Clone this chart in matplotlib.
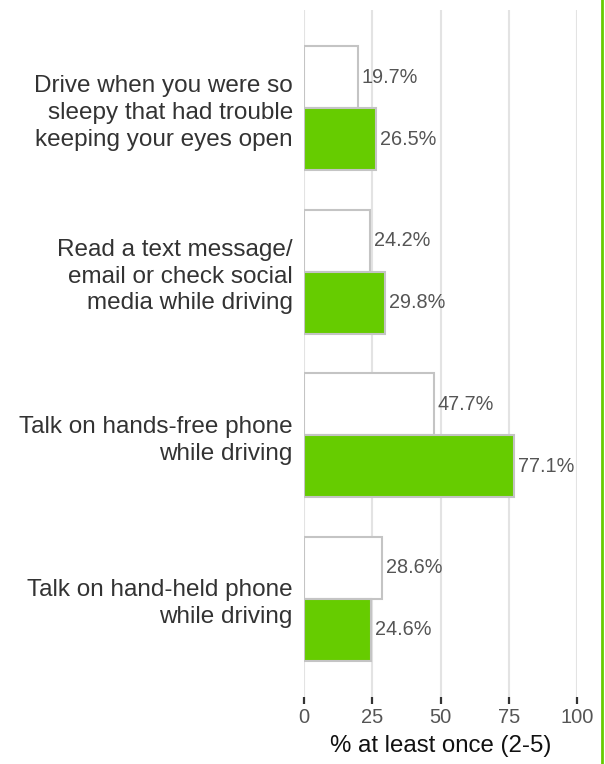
import numpy as np
import matplotlib
matplotlib.use("Agg")
import matplotlib.pyplot as plt
from matplotlib.lines import Line2D

plt.rcParams['font.family'] = ['Liberation Sans', 'DejaVu Sans']

categories = ['Drive when you were so\nsleepy that had trouble\nkeeping your eyes open',
              'Read a text message/\nemail or check social\nmedia while driving',
              'Talk on hands-free phone\nwhile driving',
              'Talk on hand-held phone\nwhile driving']
series_white = [19.7, 24.2, 47.7, 28.6]
series_green = [26.5, 29.8, 77.1, 24.6]
xticks = [0, 25, 50, 75, 100]

fig = plt.figure(figsize=(6.05, 7.64), dpi=100)
ax = fig.add_axes([304/605, 67/764, 273/605, 687/764])

y = np.arange(len(categories))
h = 0.379

ax.barh(y - h/2, series_white, height=h, color='white', edgecolor='#c4c4c4', linewidth=1.5, zorder=3)
ax.barh(y + h/2, series_green, height=h, color='#66cc00', edgecolor='#c4c4c4', linewidth=1.5, zorder=3)

for yi, v in zip(y, series_white):
    ax.annotate(f'{v}%', (v, yi - h/2), xytext=(2.5, 0), textcoords='offset points',
                va='center', ha='left', fontsize=14.3, color='#555555')
for yi, v in zip(y, series_green):
    ax.annotate(f'{v}%', (v, yi + h/2), xytext=(2.5, 0), textcoords='offset points',
                va='center', ha='left', fontsize=14.3, color='#555555')

ax.set_xlim(0, 100)
ax.set_ylim(3.6, -0.6)
ax.set_xticks(xticks)
ax.set_xticklabels([str(t) for t in xticks], fontsize=14.5, color='#555555')
ax.set_yticks(y)
ax.set_yticklabels(categories, fontsize=17.5, color='#333333', ha='right', linespacing=1.28)
ax.tick_params(axis='y', length=0, pad=8)
ax.tick_params(axis='x', length=5, width=1.6, color='#333333', pad=3)
ax.grid(axis='x', color='#e3e3e3', linewidth=1.5, zorder=0)
ax.set_axisbelow(True)
for s in ax.spines.values():
    s.set_visible(False)
ax.set_xlabel('% at least once (2-5)', fontsize=17.3, color='#111111', labelpad=6)

fig.add_artist(Line2D([602/605, 602/605], [0, 1], color='#66cc00', linewidth=2, transform=fig.transFigure))

fig.savefig('out.png', dpi=100)
